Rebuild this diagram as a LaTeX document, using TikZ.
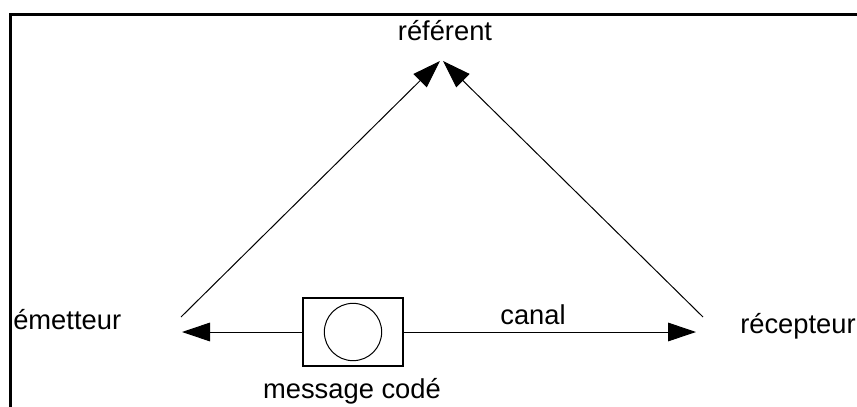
\documentclass[tikz,border=0pt]{standalone}
\usepackage{fontspec}
\setmainfont{Liberation Sans}
\usepackage{tikz}
\usetikzlibrary{arrows.meta, positioning}

\begin{document}
\begin{tikzpicture}[x=0.75pt, y=-0.75pt,
  lbl/.style={inner sep=0pt, font=\fontsize{20.5}{24}\selectfont},
  flow/.style={-{Triangle[length=21pt, width=14pt]}, line width=0.75pt},
  msgbox/.style={rectangle, draw, line width=1.1pt, minimum width=75pt, minimum height=51pt, inner sep=0pt},
  codecircle/.style={circle, draw, line width=0.75pt, minimum size=43pt, inner sep=0pt}]
\useasboundingbox (0,0) rectangle (857,407);
\clip (0,0) rectangle (857,407);
\draw[line width=2.25pt] (10,430) -- (10,14) -- (880,14);

\node (referent) [lbl, anchor=base] at (445,40) {référent};
\node (emetteur) [lbl, anchor=base west] at (13,329) {émetteur};
\node (recepteur) [lbl, anchor=base west] at (740,333) {récepteur};
\node (message) [msgbox] at (353,332) {};
\node (code) [codecircle] at (message.center) {};
\node (codelabel) [lbl, anchor=base] at (352,398) {message codé};
\node (canal) [lbl, anchor=base] at (533,324) {canal};

\coordinate (emTop) at (181,317);
\coordinate (emIn) at (182,332);
\coordinate (recTop) at (703,317);
\coordinate (recIn) at (696,332);
\coordinate (refLeft) at (440,61);
\coordinate (refRight) at (443,61);

\draw[flow] (emTop) -- (refLeft);
\draw[flow] (recTop) -- (refRight);
\draw[flow] (message) -- (emIn);
\draw[flow] (message) -- (recIn);
\end{tikzpicture}
\end{document}
